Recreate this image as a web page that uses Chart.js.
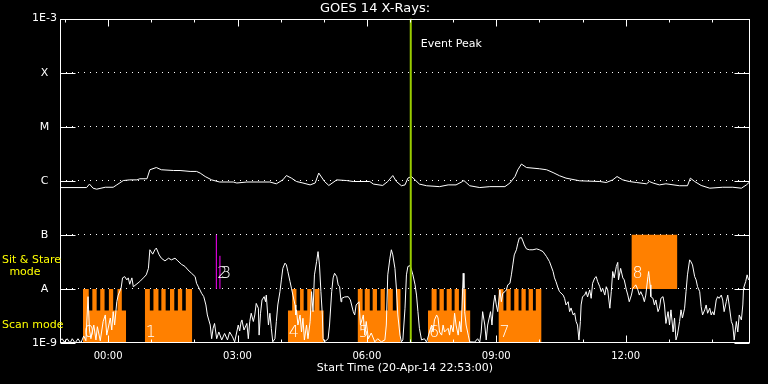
<!DOCTYPE html>
<html lang="en">
<head>
<meta charset="UTF-8">
<title>GOES 14 X-Rays</title>
<script src="https://cdn.jsdelivr.net/npm/chart.js"></script>
<style>
  body { margin: 0; background: #000000; }
  #xrayChart { display: block; }
</style>
</head>
<body>
<canvas id="xrayChart" width="768" height="384"></canvas>
<script>
// time axis = minutes after the start time (20-Apr-14 22:53:00)
const startLabel = 'Start Time (20-Apr-14 22:53:00)';
const hourTicks = [7, 67, 127, 187, 247, 307, 367, 427, 487, 547, 607, 667, 727, 787, 847, 907];
const timeTickValues = [67, 247, 427, 607, 787];
const timeTickLabels = ['00:00', '03:00', '06:00', '09:00', '12:00'];

// flux classes (W/m^2)
const classValues = [1e-9, 1e-8, 1e-7, 1e-6, 1e-5, 1e-4, 1e-3];
const classLabels = ['1E-9', 'A', 'B', 'C', 'M', 'X', '1E-3'];

// long channel (upper white curve): [minute, flux]
const longFlux = [
  [0,7.5e-7],[37,7.5e-7],[41,8.7e-7],[46,7.3e-7],[51,7.0e-7],[63,7.6e-7],[74,7.6e-7],[79,8.4e-7],[88,1.01e-6],[97,1.04e-6],
  [107,1.04e-6],[111,1.09e-6],[121,1.09e-6],[125,1.6e-6],[134,1.76e-6],[141,1.6e-6],[158,1.55e-6],[167,1.55e-6],[181,1.49e-6],[190,1.49e-6],
  [195,1.39e-6],[202,1.2e-6],[211,1.04e-6],[222,9.5e-7],[241,9.5e-7],[246,9.1e-7],[260,9.5e-7],[292,9.5e-7],[301,8.8e-7],[310,1.04e-6],
  [315,1.25e-6],[322,1.12e-6],[329,9.7e-7],[338,9.1e-7],[348,8.4e-7],[355,9.1e-7],[360,1.39e-6],[368,9.7e-7],[374,8.2e-7],[385,1.04e-6],
  [399,1.01e-6],[408,9.7e-7],[431,9.7e-7],[436,8.7e-7],[449,8.2e-7],[456,9.7e-7],[463,1.25e-6],[468,9.7e-7],[475,8.1e-7],[480,8.4e-7],
  [484,1.12e-6],[489,1.2e-6],[494,1.04e-6],[500,8.7e-7],[510,8.1e-7],[528,7.8e-7],[540,8.4e-7],[551,8.4e-7],[560,9.7e-7],[562,1.01e-6],
  [570,8.1e-7],[584,7.5e-7],[598,7.8e-7],[619,7.8e-7],[626,9.1e-7],[633,1.2e-6],[637,1.6e-6],[642,2.04e-6],[649,1.76e-6],[667,1.67e-6],
  [677,1.6e-6],[686,1.42e-6],[695,1.24e-6],[704,1.12e-6],[723,1.0e-6],[751,9.7e-7],[760,9.3e-7],[769,1.04e-6],[775,1.2e-6],[783,1.04e-6],
  [792,9.7e-7],[802,9.3e-7],[816,8.8e-7],[820,9.7e-7],[825,9.1e-7],[834,8.4e-7],[843,8.8e-7],[862,8.1e-7],[873,8.1e-7],[877,1.12e-6],
  [883,9.7e-7],[892,8.2e-7],[904,7.3e-7],[922,7.6e-7],[936,7.6e-7],[948,7.3e-7],[955,8.4e-7],[960,9.7e-7]
];

// short channel (lower white curve): [minute, flux]
const shortFlux = [
  [0,1.1e-9],[3,1.2e-9],[6,1.04e-9],[10,1.2e-9],[14,1.0e-9],[17,1.2e-9],[21,1.0e-9],[25,1.2e-9],[29,1.0e-9],[33,1.35e-9],
  [36,1.1e-9],[39,7.2e-9],[41,1.74e-9],[43,1.2e-9],[47,2.15e-9],[50,1.14e-9],[52,2.0e-9],[56,1.1e-9],[60,2.5e-9],[63,3.3e-9],
  [65,1.4e-9],[70,2.9e-9],[72,1.74e-9],[74,3.8e-9],[76,2.15e-9],[79,5.8e-9],[81,7.7e-9],[85,1.03e-8],[87,1.6e-8],[90,1.69e-8],
  [93,1.47e-8],[95,1.6e-8],[97,1.22e-8],[100,1.6e-8],[102,1.1e-8],[107,1.24e-8],[111,1.37e-8],[116,1.6e-8],[120,1.82e-8],[123,2.4e-8],
  [125,5.3e-8],[129,4.4e-8],[132,5.3e-8],[134,5.7e-8],[138,4.26e-8],[141,3.7e-8],[146,3.3e-8],[151,3.7e-8],[155,3.45e-8],[160,3.7e-8],
  [164,3.3e-8],[169,2.85e-8],[174,2.6e-8],[178,2.25e-8],[183,1.95e-8],[188,1.69e-8],[190,1.27e-8],[194,1.0e-8],[197,8.3e-9],[200,7.2e-9],
  [203,5.05e-9],[205,3.3e-9],[209,2.15e-9],[211,1.2e-9],[213,1.87e-9],[215,2.3e-9],[218,1.2e-9],[221,1.6e-9],[225,1.14e-9],[229,1.5e-9],
  [233,1.14e-9],[236,1.6e-9],[240,1.3e-9],[243,1.05e-9],[248,2.15e-9],[250,1.67e-9],[252,2.5e-9],[253,2.67e-9],[256,1.74e-9],[260,2.3e-9],
  [262,1.2e-9],[264,2.5e-9],[266,3.55e-9],[269,2.5e-9],[271,3.3e-9],[273,5.4e-9],[276,4.4e-9],[277,1.4e-9],[279,3.55e-9],[281,6.25e-9],
  [284,7.2e-9],[286,5.8e-9],[287,7.7e-9],[290,2.15e-9],[292,3.55e-9],[294,1.87e-9],[296,1.05e-9],[299,1.2e-9],[301,2.5e-9],[303,5.05e-9],
  [306,8.9e-9],[308,1.47e-8],[310,2.4e-8],[313,3.0e-8],[315,2.78e-8],[317,2.1e-8],[320,1.37e-8],[322,1.03e-8],[324,7.7e-9],[327,5.05e-9],
  [328,3.3e-9],[329,4.1e-9],[331,2.15e-9],[334,3.3e-9],[336,1.6e-9],[338,2.87e-9],[340,1.14e-9],[343,2.15e-9],[345,1.2e-9],[348,2.5e-9],
  [350,8.9e-9],[352,3.8e-9],[354,1.82e-8],[357,3.2e-8],[359,4.9e-8],[361,2.78e-8],[363,8.9e-9],[365,3.3e-9],[366,1.2e-9],[368,1.05e-9],
  [373,1.2e-9],[375,2.15e-9],[378,8.9e-9],[380,1.6e-8],[382,1.95e-8],[385,1.69e-8],[387,1.19e-8],[389,1.1e-8],[391,5.8e-9],[392,6.7e-9],
  [396,7.1e-9],[401,7.2e-9],[404,6.25e-9],[408,3.8e-9],[410,3.3e-9],[412,5.05e-9],[416,5.8e-9],[418,2.15e-9],[422,3.3e-9],[424,1.4e-9],
  [426,2.5e-9],[429,1.2e-9],[433,1.53e-9],[438,1.05e-9],[442,1.2e-9],[447,1.05e-9],[452,1.14e-9],[454,2.15e-9],[456,1.82e-8],[459,3.7e-8],
  [461,5.3e-8],[463,4.26e-8],[466,2.4e-8],[468,1.03e-8],[470,3.3e-9],[473,1.4e-9],[475,1.05e-9],[477,1.14e-9],[480,4.4e-9],[482,1.82e-8],
  [484,2.6e-8],[487,2.7e-8],[489,2.25e-8],[491,1.82e-8],[494,1.19e-8],[496,7.7e-9],[498,3.8e-9],[500,1.87e-9],[503,1.14e-9],[507,1.2e-9],
  [510,1.04e-9],[514,1.6e-9],[517,2.15e-9],[519,1.6e-9],[521,2.67e-9],[524,3.3e-9],[526,2.9e-9],[528,1.6e-9],[531,1.4e-9],[533,2.15e-9],
  [535,1.6e-9],[540,1.87e-9],[542,1.4e-9],[544,2.15e-9],[547,1.6e-9],[549,3.55e-9],[551,2.15e-9],[554,1.4e-9],[556,2.5e-9],[558,1.6e-9],
  [561,1.95e-8],[562,1.03e-8],[563,3.8e-9],[565,2.15e-9],[568,1.4e-9],[570,1.05e-9],[577,1.04e-9],[581,1.2e-9],[584,1.04e-9],[586,1.6e-9],
  [588,3.8e-9],[591,2.15e-9],[593,1.14e-9],[595,2.15e-9],[598,3.3e-9],[599,3.8e-9],[601,2.15e-9],[603,5.05e-9],[605,7.7e-9],[607,5.05e-9],
  [609,3.8e-9],[612,9.6e-9],[614,5.8e-9],[616,8.3e-9],[619,8.9e-9],[621,9.6e-9],[623,1.19e-8],[626,1.27e-8],[628,1.82e-8],[630,2.78e-8],
  [632,4.26e-8],[635,5.3e-8],[637,7.0e-8],[639,8.7e-8],[642,8.9e-8],[644,7.7e-8],[646,6.5e-8],[649,5.5e-8],[653,5.3e-8],[658,5.3e-8],
  [663,5.5e-8],[667,5.3e-8],[672,4.9e-8],[677,3.95e-8],[681,3.2e-8],[686,2.1e-8],[688,1.6e-8],[690,1.37e-8],[693,1.03e-8],[695,8.9e-9],
  [700,7.7e-9],[702,6.7e-9],[704,5.05e-9],[707,5.8e-9],[709,3.8e-9],[711,4.45e-9],[714,3.3e-9],[716,3.6e-9],[718,2.5e-9],[720,2.15e-9],
  [722,1.14e-9],[724,2.5e-9],[725,5.05e-9],[727,7.2e-9],[730,7.7e-9],[732,8.9e-9],[734,7.1e-9],[737,9.6e-9],[739,6.7e-9],[741,1.27e-8],
  [744,1.6e-8],[746,1.69e-8],[748,1.37e-8],[751,1.1e-8],[753,8.9e-9],[755,1.03e-8],[758,7.7e-9],[760,1.1e-8],[762,9.6e-9],[765,4.4e-9],
  [767,8.9e-9],[769,2.1e-8],[771,1.6e-8],[774,2.6e-8],[776,3.1e-8],[777,1.47e-8],[780,2.4e-8],[783,1.6e-8],[785,1.47e-8],[788,9.6e-9],
  [790,7.7e-9],[792,5.8e-9],[795,7.7e-9],[797,1.03e-8],[799,1.1e-8],[801,1.19e-8],[804,9.6e-9],[806,7.7e-9],[808,8.9e-9],[811,7.2e-9],
  [813,5.8e-9],[815,7.7e-9],[818,1.69e-8],[819,2.1e-8],[821,1.19e-8],[822,7.2e-9],[825,6.7e-9],[827,5.05e-9],[829,6.25e-9],[832,3.8e-9],
  [834,4.4e-9],[836,6.7e-9],[839,7.2e-9],[841,5.05e-9],[843,2.3e-9],[846,3.8e-9],[848,2.15e-9],[850,4.1e-9],[853,1.6e-9],[855,2.9e-9],
  [857,1.14e-9],[859,1.4e-9],[862,2.5e-9],[864,4.1e-9],[866,2.9e-9],[869,4.4e-9],[871,8.9e-9],[873,1.82e-8],[876,3.45e-8],[878,3.16e-8],
  [880,2.78e-8],[883,1.69e-8],[885,1.47e-8],[887,1.1e-8],[890,8.9e-9],[892,4.7e-9],[894,3.3e-9],[897,4.1e-9],[899,5.05e-9],[901,3.55e-9],
  [904,4.4e-9],[906,3.3e-9],[908,3.8e-9],[910,3.3e-9],[913,6.25e-9],[915,7.2e-9],[917,6.7e-9],[920,7.7e-9],[922,6.25e-9],[924,3.8e-9],
  [927,5.8e-9],[929,7.7e-9],[931,5.05e-9],[934,2.5e-9],[936,2.15e-9],[938,1.14e-9],[941,2.5e-9],[943,1.6e-9],[945,3.3e-9],[948,2.67e-9],
  [950,5.05e-9],[951,1.03e-8],[954,1.37e-8],[956,1.82e-8],[958,1.47e-8]
];

// scan mode blocks (minutes) and their raster teeth
const scanStart  = [32, 118, 317, 414, 512, 610];
const scanEnd    = [92, 184, 367, 474, 571, 670];
const scanLabels = ['0', '1', '4', '5', '6', '7'];
const scanTeeth = [
  [[32,40],[45,51],[56,62],[68,74],[80,86]],
  [[118,125],[130,137],[141,147],[153,159],[164,170],[175,184]],
  [[323,329],[334,339],[344,350],[354,361]],
  [[414,421],[424,431],[435,441],[446,452],[456,463],[468,474]],
  [[517,524],[528,534],[538,545],[549,555],[559,565]],
  [[610,617],[621,627],[632,638],[642,648],[652,658],[662,670]]
];
const scanBase = 4e-9;
const scanTop = 1e-8;

// sit & stare blocks
const stareStart  = [795];
const stareEnd    = [859];
const stareLabels = ['8'];
const stareBottom = 1e-8;
const stareTop = 1e-7;

// very short sit & stare pointings
const pointTimes  = [217.5, 222.5];
const pointTops   = [1e-7, 4.1e-8];
const pointLabels = ['2', '3'];

const eventPeak = 488;

// where the text labels sit (flux levels used as baselines)
const scanLabelLevel = 1.27e-9;
const stareLabelLevel = 1.6e-8;
const eventLabelLevel = 3.0e-4;
const modeLabels = ['Sit & Stare', 'mode', 'Scan mode'];
const modeLevels = [3.03e-8, 1.82e-8, 1.9e-9];

const family = "'DejaVu Sans', sans-serif";
const orange = '#ff8000';

function toPoints(pairs) {
    return pairs.map(p => ({ x: p[0], y: p[1] }));
}

function scanOutline(i) {
    // comb shaped outline of one scan block, filled down to the axis
    const pts = [{ x: scanStart[i], y: scanBase }];
    scanTeeth[i].forEach(([a, b]) => {
        pts.push({ x: a, y: scanBase }, { x: a, y: scanTop }, { x: b, y: scanTop }, { x: b, y: scanBase });
    });
    pts.push({ x: scanEnd[i], y: scanBase });
    return pts;
}

const datasets = [];

datasets.push({
    data: toPoints(longFlux), borderColor: '#ffffff', borderWidth: 1,
    pointRadius: 0, tension: 0, fill: false, order: 1
});
datasets.push({
    data: toPoints(shortFlux), borderColor: '#ffffff', borderWidth: 1,
    pointRadius: 0, tension: 0, fill: false, order: 1
});

scanStart.forEach((s, i) => {
    datasets.push({
        data: scanOutline(i), borderColor: 'rgba(0,0,0,0)', borderWidth: 1,
        backgroundColor: orange, fill: 'start', pointRadius: 0, tension: 0, order: 5
    });
});

stareStart.forEach((s, i) => {
    datasets.push({
        data: [{ x: s, y: stareTop }, { x: stareEnd[i], y: stareTop }],
        borderColor: 'rgba(0,0,0,0)', borderWidth: 1,
        backgroundColor: orange, fill: { value: stareBottom }, pointRadius: 0, order: 5
    });
});

pointTimes.forEach((t, i) => {
    datasets.push({
        data: [{ x: t, y: stareBottom }, { x: t, y: pointTops[i] }],
        borderColor: '#ff00ff', borderWidth: 1, pointRadius: 0, fill: false, order: 2
    });
});

datasets.push({
    data: [{ x: eventPeak, y: 1e-9 }, { x: eventPeak, y: 1e-3 }],
    borderColor: '#99cc00', borderWidth: 2, pointRadius: 0, fill: false, order: 0
});

// frame plus inward tick marks, IDL style
const frameTicks = {
    id: 'frameTicks',
    afterDraw(chart) {
        const { ctx, chartArea: a, scales: { x, y } } = chart;
        ctx.save();
        ctx.strokeStyle = '#ffffff';
        ctx.lineWidth = 1;
        const seg = (x1, y1, x2, y2) => {
            ctx.beginPath();
            ctx.moveTo(x1, y1);
            ctx.lineTo(x2, y2);
            ctx.stroke();
        };
        const L = Math.round(a.left) + 0.5, R = Math.round(a.right) - 0.5;
        const T = Math.round(a.top) + 0.5, B = Math.round(a.bottom) - 0.5;
        ctx.strokeRect(L, T, R - L, B - T);
        hourTicks.forEach(t => {
            const px = Math.round(x.getPixelForValue(t)) + 0.5;
            const len = timeTickValues.includes(t) ? 7 : 3;
            seg(px, T, px, T + len);
            seg(px, B, px, B - len);
        });
        classValues.forEach(v => {
            const py = Math.round(y.getPixelForValue(v)) + 0.5;
            seg(L, py, L + 15, py);
            seg(R - 15, py, R, py);
        });
        ctx.restore();
    }
};

// block numbers, event peak and mode captions
const captions = {
    id: 'captions',
    afterDraw(chart) {
        const { ctx, scales: { x, y } } = chart;
        ctx.save();
        ctx.textBaseline = 'alphabetic';
        ctx.textAlign = 'left';
        ctx.fillStyle = '#ffffff';
        ctx.font = "200 16px " + family;
        scanStart.forEach((s, i) => {
            ctx.fillText(scanLabels[i], x.getPixelForValue(s) + 1, y.getPixelForValue(scanLabelLevel));
        });
        stareStart.forEach((s, i) => {
            ctx.fillText(stareLabels[i], x.getPixelForValue(s) + 1, y.getPixelForValue(stareLabelLevel));
        });
        pointTimes.forEach((t, i) => {
            ctx.fillText(pointLabels[i], x.getPixelForValue(t) + 1, y.getPixelForValue(stareLabelLevel));
        });

        ctx.font = "11px " + family;
        ctx.fillText('Event Peak', x.getPixelForValue(eventPeak) + 10, y.getPixelForValue(eventLabelLevel));

        ctx.fillStyle = '#ffff00';
        ctx.fillText(modeLabels[0], 2, y.getPixelForValue(modeLevels[0]));
        ctx.textAlign = 'center';
        ctx.fillText(modeLabels[1], 25, y.getPixelForValue(modeLevels[1]));
        ctx.textAlign = 'left';
        ctx.fillText(modeLabels[2], 2, y.getPixelForValue(modeLevels[2]));
        ctx.restore();
    }
};

Chart.defaults.font.family = family;
Chart.defaults.color = '#ffffff';

new Chart(document.getElementById('xrayChart'), {
    type: 'line',
    data: { datasets: datasets },
    options: {
        responsive: false,
        animation: false,
        parsing: false,
        layout: { padding: { left: 0, right: 18, top: 0, bottom: 0 } },
        plugins: {
            legend: { display: false },
            tooltip: { enabled: false },
            title: {
                display: true,
                text: 'GOES 14 X-Rays:',
                color: '#ffffff',
                font: { family: family, size: 13, weight: 'normal' },
                padding: { top: 1, bottom: 2 }
            }
        },
        scales: {
            x: {
                type: 'linear',
                min: 0,
                max: 960,
                afterBuildTicks: s => { s.ticks = timeTickValues.map(v => ({ value: v })); },
                afterFit: s => { s.height = 41; },
                grid: { display: false, drawTicks: false },
                border: { display: false },
                ticks: {
                    color: '#ffffff',
                    font: { family: family, size: 10 },
                    padding: 7,
                    autoSkip: false,
                    maxRotation: 0,
                    callback: (v, i) => timeTickLabels[i]
                },
                title: {
                    display: true,
                    text: startLabel,
                    color: '#ffffff',
                    font: { family: family, size: 11 },
                    padding: { top: 0, bottom: 9 }
                }
            },
            y: {
                type: 'logarithmic',
                min: 1e-9,
                max: 1e-3,
                afterBuildTicks: s => { s.ticks = classValues.map(v => ({ value: v })); },
                afterFit: s => { s.width = 60; },
                grid: {
                    drawTicks: false,
                    lineWidth: 1,
                    color: c => (c.index > 0 && c.index < classValues.length - 1) ? '#ffffff' : 'rgba(0,0,0,0)'
                },
                border: { display: false, dash: [1, 5] },
                ticks: {
                    color: '#ffffff',
                    font: { family: family, size: 11 },
                    crossAlign: 'center',
                    padding: 3,
                    callback: (v, i) => classLabels[i]
                }
            }
        }
    },
    plugins: [frameTicks, captions]
});
</script>
</body>
</html>
